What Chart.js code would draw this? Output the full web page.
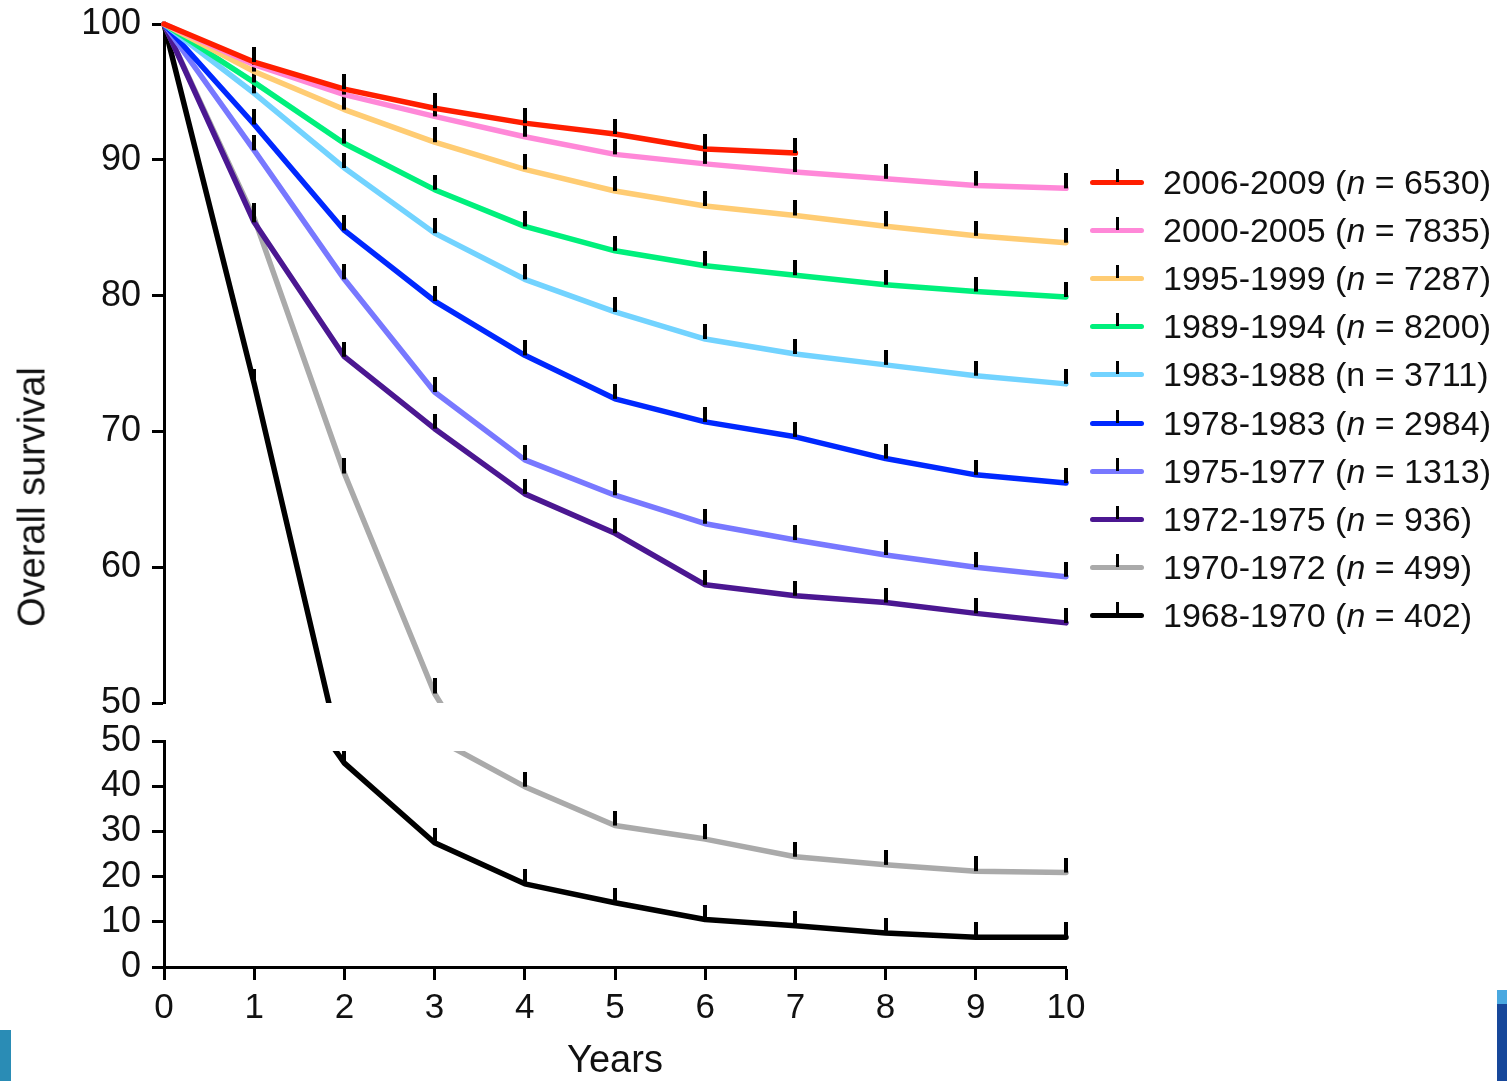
<!DOCTYPE html>
<html>
<head>
<meta charset="utf-8">
<title>Overall survival</title>
<script src="https://cdn.jsdelivr.net/npm/chart.js@4/dist/chart.umd.min.js"></script>
<style>
  body { margin: 0; background: #fff; width: 1507px; height: 1081px; overflow: hidden; position: relative;
         font-family: "Liberation Sans", Arial, sans-serif; color: #111; }
  canvas { position: absolute; left: 0; }
  #top { top: 0; }
  #bottom { top: 720px; }
  #ytitle { position: absolute; left: 32px; top: 497px; transform: translate(-50%, -50%) rotate(-90deg);
            font-size: 38px; white-space: nowrap; }
  #legend { position: absolute; left: 1090px; top: 158px; }
  .row { height: 48.2px; display: flex; align-items: center; font-size: 34px; white-space: nowrap; }
  .mark { position: relative; width: 54px; height: 5px; border-radius: 3px; margin-right: 19px; }
  .mark::after { content: ''; position: absolute; left: 26px; top: -11px; width: 3px; height: 13px; background: #000; }
  .corner { position: absolute; }
</style>
</head>
<body>
<canvas id="top" width="1507" height="720"></canvas>
<canvas id="bottom" width="1507" height="361"></canvas>
<div id="ytitle">Overall survival</div>
<div id="legend"></div>
<div class="corner" style="left:0;top:1030px;width:11px;height:51px;background:#2a8cb5"></div>
<div class="corner" style="left:1497px;top:990px;width:10px;height:14px;background:#4aa8e0"></div>
<div class="corner" style="left:1497px;top:1004px;width:10px;height:77px;background:#17479a"></div>

<script>
// years on the x axis
const years = [0, 1, 2, 3, 4, 5, 6, 7, 8, 9, 10];

// cohorts (legend order)
const periods = ['2006-2009', '2000-2005', '1995-1999', '1989-1994', '1983-1988',
                 '1978-1983', '1975-1977', '1972-1975', '1970-1972', '1968-1970'];
const cohortN = [6530, 7835, 7287, 8200, 3711, 2984, 1313, 936, 499, 402];
const italicN = [true, true, true, true, false, true, true, true, true, true];
const colors = ['#ff1e00', '#ff88d8', '#ffcc73', '#00f07c', '#72d3ff',
                '#0028ff', '#7878ff', '#4b1791', '#aaaaaa', '#000000'];

// overall survival (%) per year
const s2006 = [100, 97.2, 95.2, 93.8, 92.7, 91.9, 90.8, 90.5];
const s2000 = [100, 97.0, 94.8, 93.2, 91.7, 90.4, 89.7, 89.1, 88.6, 88.1, 87.9];
const s1995 = [100, 96.5, 93.7, 91.3, 89.3, 87.7, 86.6, 85.9, 85.1, 84.4, 83.9];
const s1989 = [100, 95.7, 91.2, 87.8, 85.1, 83.3, 82.2, 81.5, 80.8, 80.3, 79.9];
const s1983 = [100, 94.9, 89.4, 84.6, 81.2, 78.8, 76.8, 75.7, 74.9, 74.1, 73.5];
const s1978 = [100, 92.6, 84.8, 79.6, 75.6, 72.4, 70.7, 69.6, 68.0, 66.8, 66.2];
const s1975 = [100, 90.7, 81.2, 72.9, 67.9, 65.3, 63.2, 62.0, 60.9, 60.0, 59.3];
const s1972 = [100, 85.4, 75.5, 70.2, 65.4, 62.5, 58.7, 57.9, 57.4, 56.6, 55.9];
const s1970 = [100, 85.7, 66.9, 50.7, 39.9, 31.3, 28.3, 24.4, 22.6, 21.2, 20.9];
const s1968 = [100, 73.5, 45.1, 27.5, 18.4, 14.2, 10.5, 9.1, 7.5, 6.6, 6.6];
const series = [s2006, s2000, s1995, s1989, s1983, s1978, s1975, s1972, s1970, s1968];

// tick labels for the two parts of the broken y axis
const topTicks = [50, 60, 70, 80, 90, 100];
const bottomTicks = [0, 10, 20, 30, 40, 50];

Chart.defaults.font.family = '"Liberation Sans", Arial, sans-serif';
Chart.defaults.color = '#111';

// little black censor mark, drawn above each yearly point
const tickMark = document.createElement('canvas');
tickMark.width = 4;
tickMark.height = 30;
const tctx = tickMark.getContext('2d');
tctx.fillStyle = '#000';
tctx.fillRect(0, 0, 4, 15);

function buildDatasets(clip) {
  return series.map((vals, i) => ({
    label: periods[i],
    data: vals.map((v, j) => ({ x: years[j], y: v })),
    borderColor: colors[i],
    borderWidth: 5.5,
    borderJoinStyle: 'round',
    borderCapStyle: 'round',
    pointStyle: tickMark,
    pointRadius: ctx => (ctx.dataIndex === 0 ? 0 : 4),
    pointHoverRadius: 4,
    tension: 0,
    clip: clip
  }));
}

function makeChart(id, yTicks, showX, padding, clip) {
  new Chart(document.getElementById(id), {
    type: 'line',
    data: { datasets: buildDatasets(clip) },
    options: {
      responsive: false,
      animation: false,
      events: [],
      layout: { padding: padding },
      plugins: { legend: { display: false }, tooltip: { enabled: false } },
      scales: {
        x: {
          type: 'linear',
          display: showX,
          min: years[0],
          max: years[years.length - 1],
          afterFit: s => { s.height = showX ? 114 : 0; },
          border: { display: true, width: 3, color: '#000' },
          grid: { drawOnChartArea: false, drawTicks: true, tickLength: 13, tickWidth: 3, tickColor: '#000' },
          ticks: { stepSize: 1, font: { size: 35 }, padding: 7, color: '#111', maxRotation: 0, autoSkip: false },
          title: { display: true, text: 'Years', font: { size: 38, lineHeight: 1 }, padding: 0, color: '#111' }
        },
        y: {
          min: yTicks[0],
          max: yTicks[yTicks.length - 1],
          // fixed axis width, and no extra room for half labels so the plot area keeps its place
          afterFit: s => { s.width = 80; s.paddingTop = 0; s.paddingBottom = 0; },
          afterBuildTicks: s => { s.ticks = yTicks.map(v => ({ value: v })); },
          border: { display: true, width: 3, color: '#000' },
          grid: { drawOnChartArea: false, drawTicks: true, tickLength: 12, tickWidth: 3, tickColor: '#000' },
          ticks: { font: { size: 36 }, padding: 11, color: '#111', autoSkip: false }
        }
      }
    }
  });
}

// upper part: 50-100, lower part: 0-50 with the year axis
// (lines crossing the break are cut a little below the lower top edge, as in the original)
makeChart('top', topTicks, false, { left: 84, top: 24, right: 441, bottom: 17 },
          { left: 6, right: 6, top: 16, bottom: 0 });
makeChart('bottom', bottomTicks, true, { left: 84, top: 21, right: 441, bottom: 0 },
          { left: 6, right: 6, top: -10, bottom: 6 });

// legend
const legend = document.getElementById('legend');
periods.forEach((p, i) => {
  const row = document.createElement('div');
  row.className = 'row';
  const n = italicN[i] ? '<i>n</i>' : 'n';
  row.innerHTML = `<span class="mark" style="background:${colors[i]}"></span><span>${p} (${n} = ${cohortN[i]})</span>`;
  legend.appendChild(row);
});
</script>
</body>
</html>
